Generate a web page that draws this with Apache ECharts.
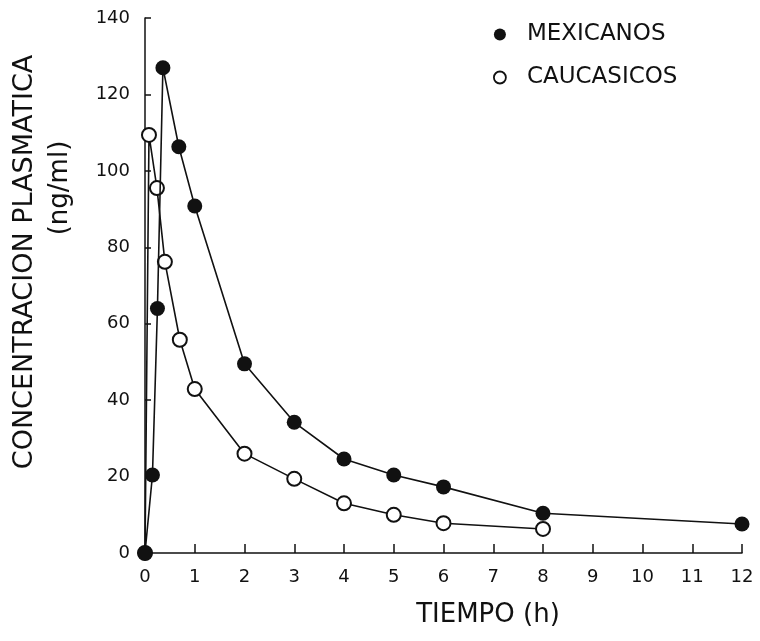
<!DOCTYPE html>
<html>
<head>
<meta charset="utf-8">
<script src="https://cdn.jsdelivr.net/npm/echarts@6/dist/echarts.min.js"></script>
<style>
  html, body { margin: 0; padding: 0; background: #fff; }
  #main { width: 760px; height: 641px; }
</style>
</head>
<body>
<div id="main"></div>
<script>
// datos
const seriesNames = ['MEXICANOS', 'CAUCASICOS'];
const mexTime = [0, 0.15, 0.25, 0.36, 0.68, 1, 2, 3, 4, 5, 6, 8, 12];
const mexConc = [0, 20.4, 64, 127, 106.3, 90.8, 49.5, 34.2, 24.6, 20.4, 17.3, 10.4, 7.6];
const cauTime = [0, 0.08, 0.24, 0.4, 0.7, 1, 2, 3, 4, 5, 6, 8];
const cauConc = [0, 109.4, 95.5, 76.2, 55.8, 42.9, 26, 19.4, 13, 10, 7.8, 6.3];
const xTicks = [0, 1, 2, 3, 4, 5, 6, 7, 8, 9, 10, 11, 12];
const yTicks = [0, 20, 40, 60, 80, 100, 120, 140];

const pairs = (xs, ys) => xs.map((x, i) => [x, ys[i]]);
const font = 'DejaVu Sans, Liberation Sans, sans-serif';
const ink = '#111';

const chart = echarts.init(document.getElementById('main'));
chart.setOption({
    backgroundColor: '#fff',
    animation: false,
    grid: { left: 145, right: 18, top: 18, bottom: 88 },
    legend: {
        orient: 'vertical',
        left: 488,
        top: 18,
        itemGap: 20,
        itemWidth: 12,
        itemHeight: 12,
        textStyle: { fontFamily: font, fontSize: 23, color: ink, padding: [0, 0, 0, 16] },
        data: [
            { name: seriesNames[0], icon: 'circle', itemStyle: { color: ink, borderWidth: 0 } },
            { name: seriesNames[1], icon: 'circle', itemStyle: { color: '#fff', borderColor: ink, borderWidth: 1.8 } }
        ]
    },
    xAxis: {
        type: 'value',
        min: xTicks[0],
        max: xTicks[xTicks.length - 1],
        interval: 1,
        axisLine: { lineStyle: { color: ink, width: 1.5 } },
        axisTick: { inside: true, length: 9, lineStyle: { color: ink, width: 1.5 } },
        axisLabel: { fontFamily: font, fontSize: 18, color: ink, margin: 15, formatter: v => xTicks.includes(v) ? String(v) : '' },
        splitLine: { show: false }
    },
    yAxis: {
        type: 'value',
        min: yTicks[0],
        max: yTicks[yTicks.length - 1],
        interval: 20,
        axisLine: { show: true, lineStyle: { color: ink, width: 1.5 } },
        axisTick: { show: true, inside: true, length: 6, lineStyle: { color: ink, width: 1.5 } },
        axisLabel: { fontFamily: font, fontSize: 18, color: ink, margin: 15, formatter: v => yTicks.includes(v) ? String(v) : '' },
        splitLine: { show: false }
    },
    graphic: [
        {
            type: 'text', rotation: Math.PI / 2, x: 25, y: 262,
            style: { text: 'CONCENTRACION PLASMATICA', fontFamily: font, fontSize: 27, fill: ink, align: 'center', verticalAlign: 'middle' }
        },
        {
            type: 'text', rotation: Math.PI / 2, x: 60, y: 188,
            style: { text: '(ng/ml)', fontFamily: font, fontSize: 26, fill: ink, align: 'center', verticalAlign: 'middle' }
        },
        {
            type: 'text', x: 488, y: 615,
            style: { text: 'TIEMPO (h)', fontFamily: font, fontSize: 26, fill: ink, align: 'center', verticalAlign: 'middle' }
        }
    ],
    series: [
        {
            name: seriesNames[0],
            type: 'line',
            data: pairs(mexTime, mexConc),
            symbol: 'circle',
            symbolSize: 15,
            lineStyle: { color: ink, width: 1.6 },
            itemStyle: { color: ink, borderWidth: 0 },
            z: 3
        },
        {
            name: seriesNames[1],
            type: 'line',
            data: pairs(cauTime, cauConc),
            symbol: 'circle',
            symbolSize: 14,
            lineStyle: { color: ink, width: 1.6 },
            itemStyle: { color: '#fff', borderColor: ink, borderWidth: 2 },
            z: 2
        }
    ]
});
</script>
</body>
</html>
